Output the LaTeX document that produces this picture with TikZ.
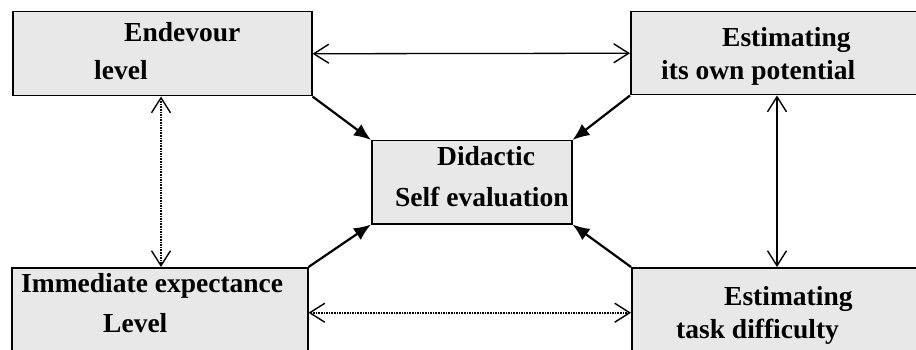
\documentclass[tikz,border=0pt]{standalone}
\usepackage{fontspec}
\setmainfont{Liberation Serif}
\usetikzlibrary{arrows.meta}
\begin{document}
\begin{tikzpicture}[x=1pt,y=-1pt,
  box/.style={draw=black,line width=1.5pt,fill=gray!18,inner sep=0pt,anchor=north west},
  lbl/.style={anchor=base west,inner sep=0pt,font=\fontsize{27.5}{33}\selectfont\bfseries},
  barb/.tip={Straight Barb[length=15pt,width=19pt,line width=1.4pt]},
  link/.style={line width=1.3pt,barb-barb},
  dotlink/.style={link,line width=2pt,dash pattern=on 1.6pt off 1pt},
  feed/.style={line width=2.2pt,-{Latex[length=17pt,width=14pt]}}]
  \useasboundingbox (0,0) rectangle (916,350);
  \clip (0,0) rectangle (916,350);
  % the five boxes
  \node[box,minimum width=299pt,minimum height=84pt] (tl) at (12,11) {};
  \node[box,minimum width=290pt,minimum height=83pt] (tr) at (630,11) {};
  \node[box,minimum width=200pt,minimum height=83pt] (c) at (371,140) {};
  \node[box,minimum width=296pt,minimum height=90pt] (bl) at (11,267) {};
  \node[box,minimum width=290pt,minimum height=90pt] (br) at (631,267) {};
  % box texts
  \node[lbl] (tl1) at (124,42) {Endevour};
  \node[lbl] (tl2) at (94,80) {level};
  \node[lbl] (tr1) at (722,47) {Estimating};
  \node[lbl] (tr2) at (661,80) {its own potential};
  \node[lbl] (c1) at (437,165) {Didactic};
  \node[lbl] (c2) at (395,207) {Self evaluation};
  \node[lbl] (bl1) at (21,292) {Immediate expectance};
  \node[lbl] (bl2) at (103,332) {Level};
  \node[lbl] (br1) at (724,305) {Estimating};
  \node[lbl] (br2) at (676,338) {task difficulty};
  % columns of the vertical links
  \coordinate (lx) at (161,0);
  \coordinate (rx) at (777,0);
  % mutual links between the outer boxes
  \draw[link] (tl.east) -- (tr.west);
  \draw[dotlink] (bl.east) -- (br.west);
  \draw[dotlink] (tl.south -| lx) -- (bl.north -| lx);
  \draw[link] (tr.south -| rx) -- (br.north -| rx);
  % links into the central box
  \draw[feed] (tl.south east) -- (c.north west);
  \draw[feed] (tr.south west) -- (c.north east);
  \draw[feed] (bl.north east) -- (c.south west);
  \draw[feed] (br.north west) -- (c.south east);
\end{tikzpicture}
\end{document}
